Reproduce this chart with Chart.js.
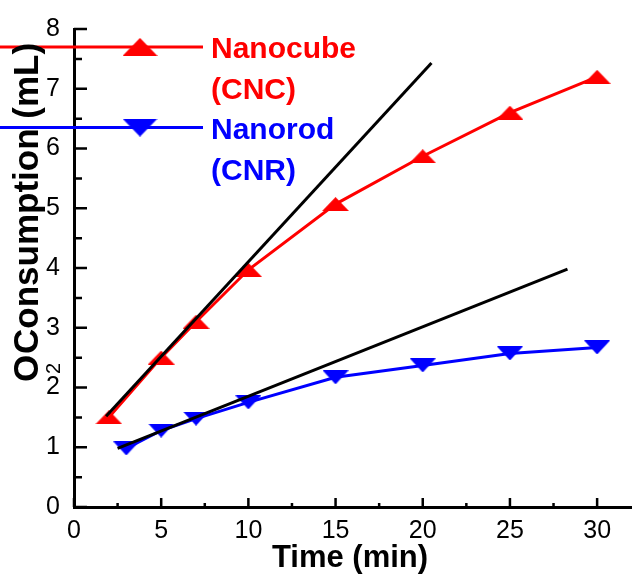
<!DOCTYPE html>
<html>
<head>
<meta charset="utf-8">
<script src="https://cdn.jsdelivr.net/npm/chart.js@4"></script>
<style>
  body { margin: 0; background: #fff; }
  canvas { display: block; }
</style>
</head>
<body>
<canvas id="o2Chart" width="632" height="578"></canvas>
<script>
// O2 consumption vs time
const timeCNC = [2, 5, 7, 10, 15, 20, 25, 30];
const o2CNC = [1.5, 2.5, 3.1, 3.97, 5.07, 5.87, 6.6, 7.2];
const timeCNR = [3, 5, 7, 10, 15, 20, 25, 30];
const o2CNR = [0.98, 1.28, 1.48, 1.75, 2.17, 2.37, 2.57, 2.67];
// linear fits (initial rate)
const fitCNCx = [1.84, 20.5];
const fitCNCy = [1.52, 7.43];
const fitCNRx = [2.5, 28.3];
const fitCNRy = [0.98, 3.98];
const xTicks = [0, 5, 10, 15, 20, 25, 30];
const yTicks = [0, 1, 2, 3, 4, 5, 6, 7, 8];
const xMinor = [2.5, 7.5, 12.5, 17.5, 22.5, 27.5];
const yMinor = [0.5, 1.5, 2.5, 3.5, 4.5, 5.5, 6.5, 7.5];

const FONT = 'Liberation Sans, Arial, sans-serif';
const RED = '#ff0000';
const BLUE = '#0000ff';

function triangle(color, w, h, down) {
  const c = document.createElement('canvas');
  c.width = w; c.height = h;
  const g = c.getContext('2d');
  g.fillStyle = color;
  g.beginPath();
  if (down) {
    g.moveTo(0, 0); g.lineTo(w, 0); g.lineTo(w / 2, h);
  } else {
    g.moveTo(w / 2, 0); g.lineTo(w, h); g.lineTo(0, h);
  }
  g.closePath();
  g.fill();
  return c;
}

const upMark = triangle(RED, 27, 14, false);
const downMark = triangle(BLUE, 26, 14, true);
const upLegend = triangle(RED, 35, 18, false);
const downLegend = triangle(BLUE, 35, 18, true);

const pts = (xs, ys) => xs.map((x, i) => ({ x: x, y: ys[i] }));

// inward ticks, legend and axis titles
const decor = {
  id: 'decor',
  afterDraw(chart) {
    const ctx = chart.ctx;
    const xs = chart.scales.x, ys = chart.scales.y;
    const a = chart.chartArea;
    ctx.save();
    ctx.strokeStyle = '#000';
    ctx.lineWidth = 2.5;
    ctx.beginPath();
    xTicks.forEach(v => { const p = xs.getPixelForValue(v); ctx.moveTo(p, a.bottom); ctx.lineTo(p, a.bottom - 9); });
    xMinor.forEach(v => { const p = xs.getPixelForValue(v); ctx.moveTo(p, a.bottom); ctx.lineTo(p, a.bottom - 4); });
    yTicks.forEach(v => { const p = ys.getPixelForValue(v); ctx.moveTo(a.left, p); ctx.lineTo(a.left + 13, p); });
    yMinor.forEach(v => { const p = ys.getPixelForValue(v); ctx.moveTo(a.left, p); ctx.lineTo(a.left + 8, p); });
    ctx.stroke();

    // legend
    const items = [
      { y: ys.getPixelForValue(7.7), color: RED, mark: upLegend, lines: ['Nanocube', '(CNC)'] },
      { y: ys.getPixelForValue(6.35), color: BLUE, mark: downLegend, lines: ['Nanorod', '(CNR)'] }
    ];
    items.forEach(it => {
      ctx.strokeStyle = it.color;
      ctx.lineWidth = 3;
      ctx.beginPath();
      ctx.moveTo(0, it.y); ctx.lineTo(203, it.y);
      ctx.stroke();
      ctx.drawImage(it.mark, 140 - it.mark.width / 2, it.y - it.mark.height / 2);
      ctx.fillStyle = it.color;
      ctx.font = 'bold 30px ' + FONT;
      ctx.textAlign = 'left';
      ctx.textBaseline = 'alphabetic';
      ctx.fillText(it.lines[0], 211, it.y + 11);
      ctx.fillText(it.lines[1], 211, it.y + 52);
    });

    // axis titles
    ctx.fillStyle = '#000';
    ctx.font = 'bold 31px ' + FONT;
    ctx.textAlign = 'center';
    ctx.fillText('Time (min)', 350, 567);

    ctx.translate(38, 382);
    ctx.rotate(-Math.PI / 2);
    ctx.textAlign = 'left';
    ctx.font = 'bold 35px ' + FONT;
    ctx.fillText('O', 0, 0);
    ctx.fillText('Consumption (mL)', 28, 0);
    ctx.font = '20px ' + FONT;
    ctx.fillText('2', 8, 22);
    ctx.restore();
  }
};

new Chart(document.getElementById('o2Chart'), {
  type: 'line',
  data: {
    datasets: [
      {
        data: pts(fitCNCx, fitCNCy),
        borderColor: '#000',
        borderWidth: 3,
        pointRadius: 0,
        order: 0
      },
      {
        data: pts(fitCNRx, fitCNRy),
        borderColor: '#000',
        borderWidth: 3,
        pointRadius: 0,
        order: 0
      },
      {
        label: 'Nanocube (CNC)',
        data: pts(timeCNC, o2CNC),
        borderColor: RED,
        borderWidth: 3,
        pointStyle: upMark,
        order: 1
      },
      {
        label: 'Nanorod (CNR)',
        data: pts(timeCNR, o2CNR),
        borderColor: BLUE,
        borderWidth: 3,
        pointStyle: downMark,
        order: 1
      }
    ]
  },
  options: {
    responsive: false,
    animation: false,
    layout: { autoPadding: false, padding: { top: 25, right: 0, left: 0, bottom: 0 } },
    plugins: { legend: { display: false }, tooltip: { enabled: false } },
    scales: {
      x: {
        type: 'linear',
        min: 0,
        max: 32,
        afterBuildTicks: s => { s.ticks = xTicks.map(v => ({ value: v })); },
        afterFit: s => { s.height = 71; },
        grid: { drawOnChartArea: false, drawTicks: false },
        border: { display: true, color: '#000', width: 3 },
        ticks: { padding: 9, color: '#000', font: { family: FONT, size: 25 } }
      },
      y: {
        min: 0,
        max: 8,
        afterBuildTicks: s => { s.ticks = yTicks.map(v => ({ value: v })); },
        afterFit: s => { s.width = 74; },
        grid: { drawOnChartArea: false, drawTicks: false },
        border: { display: true, color: '#000', width: 3 },
        ticks: { padding: 14, color: '#000', font: { family: FONT, size: 25 } }
      }
    }
  },
  plugins: [decor]
});
</script>
</body>
</html>
